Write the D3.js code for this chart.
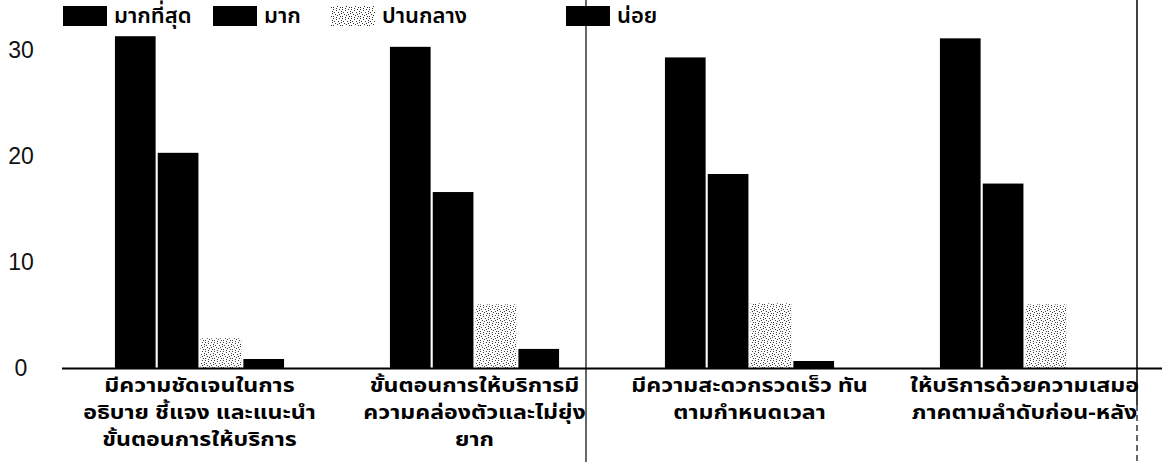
<!DOCTYPE html>
<html>
<head>
<meta charset="utf-8">
<script src="https://cdn.jsdelivr.net/npm/d3@7"></script>
<style>
  html, body { margin: 0; padding: 0; background: #fff; }
  svg { display: block; }
  .tick-label { font-family: "Liberation Sans", Arial, sans-serif; font-size: 23px; fill: #111; }
  .cat-label { font-family: "Noto Sans Thai", "Noto Sans", Tahoma, sans-serif; font-size: 19px; font-weight: bold; fill: #000; }
  .legend-label { font-family: "Noto Sans Thai", "Noto Sans", Tahoma, sans-serif; font-size: 22px; font-weight: 600; fill: #000; }
</style>
</head>
<body>
<svg id="chart" width="1162" height="462"></svg>
<script>
// Survey items (each label split into its printed lines)
const categories = [
  ["มีความชัดเจนในการ", "อธิบาย ชี้แจง และแนะนำ", "ขั้นตอนการให้บริการ"],
  ["ขั้นตอนการให้บริการมี", "ความคล่องตัวและไม่ยุ่ง", "ยาก"],
  ["มีความสะดวกรวดเร็ว ทัน", "ตามกำหนดเวลา"],
  ["ให้บริการด้วยความเสมอ", "ภาคตามลำดับก่อน-หลัง"]
];

// Rating levels
const seriesNames = ["มากที่สุด", "มาก", "ปานกลาง", "น่อย"];

// Responses per rating level, one value per item
const valuesMost   = [31.3, 30.3, 29.3, 31.1];
const valuesMuch   = [20.3, 16.6, 18.3, 17.4];
const valuesMedium = [2.8, 6.0, 6.1, 6.0];
const valuesLittle = [0.85, 1.8, 0.66, 0];

const yTicks = [0, 10, 20, 30];

const series = [valuesMost, valuesMuch, valuesMedium, valuesLittle];

const svg = d3.select("#chart");
const W = 1162, H = 462;

// Stippled fill for the middle rating
const defs = svg.append("defs");
const pat = defs.append("pattern")
  .attr("id", "stipple")
  .attr("patternUnits", "userSpaceOnUse")
  .attr("width", 9).attr("height", 9);
pat.append("rect").attr("width", 9).attr("height", 9).attr("fill", "#fff");
const dots = [[0,0],[3,1],[6,0],[1,3],[5,3],[8,4],[2,5],[4,6],[7,7],[0,7],[3,8],[6,5],[8,2]];
pat.selectAll("rect.d").data(dots).enter().append("rect")
  .attr("class", "d")
  .attr("x", d => d[0]).attr("y", d => d[1])
  .attr("width", 1).attr("height", 1).attr("fill", "#333");

const fills = ["#000", "#000", "url(#stipple)", "#000"];

// Scales
const x0 = d3.scaleBand()
  .domain(d3.range(categories.length))
  .range([62, 1162])
  .paddingInner(0.385)
  .paddingOuter(0.1925);

const x1 = d3.scaleBand()
  .domain(d3.range(series.length))
  .range([0, x0.bandwidth()])
  .paddingInner(0.05);

const y = d3.scaleLinear()
  .domain([0, 30])
  .range([368, 50]);

// Bars
const groups = svg.append("g").selectAll("g")
  .data(categories.map((c, i) => i))
  .enter().append("g")
  .attr("transform", i => `translate(${x0(i)},0)`);

groups.selectAll("rect")
  .data(i => series.map((s, k) => ({ k, v: s[i] })))
  .enter().append("rect")
  .attr("x", d => x1(d.k))
  .attr("width", x1.bandwidth())
  .attr("y", d => y(d.v))
  .attr("height", d => y(0) - y(d.v))
  .attr("fill", d => fills[d.k]);

// Baseline
svg.append("line")
  .attr("x1", 62).attr("x2", W)
  .attr("y1", y(0) + 0.5).attr("y2", y(0) + 0.5)
  .attr("stroke", "#000").attr("stroke-width", 2);

// Y tick labels (no axis line)
const yAxis = d3.axisLeft(y).tickValues(yTicks).tickSize(0).tickPadding(0);
const ya = svg.append("g").attr("transform", "translate(21,0)").call(yAxis);
ya.select(".domain").remove();
ya.selectAll("text")
  .attr("class", "tick-label")
  .attr("text-anchor", "middle")
  .attr("font-size", null)
  .attr("font-family", null);

// Category labels, widened horizontally
const lineGap = 27;
categories.forEach((lines, i) => {
  const cx = x0(i) + x0.bandwidth() / 2;
  const g = svg.append("g").attr("transform", `translate(${cx},0) scale(1.22,1)`);
  lines.forEach((ln, j) => {
    g.append("text")
      .attr("class", "cat-label")
      .attr("text-anchor", "middle")
      .attr("x", 0)
      .attr("y", 392 + j * lineGap)
      .text(ln);
  });
});

// Legend
const legendX = [63, 213, 331, 566];
const lg = svg.append("g");
seriesNames.forEach((name, k) => {
  lg.append("rect")
    .attr("x", legendX[k]).attr("y", 6)
    .attr("width", 44).attr("height", 20)
    .attr("fill", fills[k]);
  lg.append("text")
    .attr("class", "legend-label")
    .attr("x", legendX[k] + 51).attr("y", 23)
    .text(name);
});

// Vertical rules across the page
svg.append("line")
  .attr("x1", 586).attr("x2", 586).attr("y1", 0).attr("y2", H)
  .attr("stroke", "#000").attr("stroke-width", 1.2);
svg.append("line")
  .attr("x1", 1137).attr("x2", 1137).attr("y1", 0).attr("y2", 405)
  .attr("stroke", "#000").attr("stroke-width", 1.5);
svg.append("line")
  .attr("x1", 1137).attr("x2", 1137).attr("y1", 405).attr("y2", H)
  .attr("stroke", "#000").attr("stroke-width", 1.2)
  .attr("stroke-dasharray", "6,4");
</script>
</body>
</html>
